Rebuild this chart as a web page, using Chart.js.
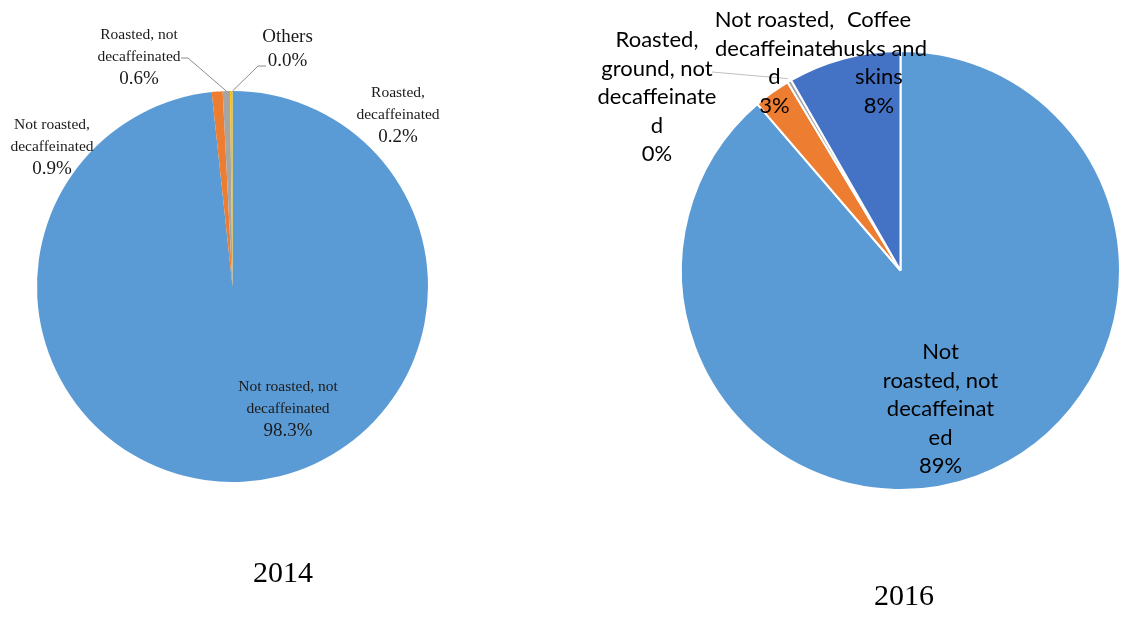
<!DOCTYPE html>
<html>
<head>
<meta charset="utf-8">
<script src="https://cdn.jsdelivr.net/npm/chart.js@4.4.0/dist/chart.umd.min.js"></script>
<style>
    body { margin: 0; background: #fff; }
    #wrap { position: relative; width: 1127px; height: 623px; overflow: hidden; }
    .box { position: absolute; top: 0; height: 623px; }
    .year {
        position: absolute;
        font-family: 'Liberation Serif', 'Times New Roman', serif;
        font-size: 30px;
        color: #000;
        transform: translate(-50%, -50%);
        line-height: 1;
    }
</style>
</head>
<body>
<div id="wrap">
    <div class="box" style="left:0;width:563px"><canvas id="chart2014"></canvas></div>
    <div class="box" style="left:563px;width:564px"><canvas id="chart2016"></canvas></div>
    <div class="year" style="left:283px;top:572px">2014</div>
    <div class="year" style="left:904px;top:595px">2016</div>
</div>
<script>
// data (shares in %)
var categories2014 = ['Not roasted, not decaffeinated', 'Not roasted, decaffeinated', 'Roasted, not decaffeinated', 'Roasted, decaffeinated', 'Others'];
var shares2014 = [98.3, 0.9, 0.6, 0.2, 0.0];
var categories2016 = ['Not roasted, not decaffeinated', 'Not roasted, decaffeinated', 'Roasted, ground, not decaffeinated', 'Coffee husks and skins'];
var shares2016 = [88.7, 2.7, 0.3, 8.3];

// label text as it is wrapped in the original
var wrap2014 = [['Not roasted, not', 'decaffeinated'], ['Not roasted,', 'decaffeinated'], ['Roasted, not', 'decaffeinated'], ['Roasted,', 'decaffeinated'], ['Others']];
var wrap2016 = [['Not', 'roasted, not', 'decaffeinat', 'ed'], ['Not roasted,', 'decaffeinate', 'd'], ['Roasted,', 'ground, not', 'decaffeinate', 'd'], ['Coffee', 'husks and', 'skins']];

var colors2014 = ['#5B9BD5', '#ED7D31', '#A5A5A5', '#FFC000', '#4472C4'];
var colors2016 = ['#5B9BD5', '#ED7D31', '#A5A5A5', '#4472C4'];

// label placement, offsets from the pie centre (first line)
var labelPos2014 = [[55.5, 100.5], [-180.5, -161.5], [-93.5, -251.5], [165.5, -193.5], [55, -249.5]];
var labelPos2016 = [[40, 81.5], [-126, -250.5], [-243.5, -230.5], [-21.5, -250.5]];

var sliceLabels = {
    id: 'sliceLabels',
    afterDatasetsDraw: function (chart, args, o) {
        var ctx = chart.ctx;
        var meta = chart.getDatasetMeta(0);
        var values = chart.data.datasets[0].data;
        var cx = meta.data[0].x, cy = meta.data[0].y;
        ctx.save();

        // leader lines
        ctx.strokeStyle = o.leaderColor;
        ctx.lineWidth = 1;
        o.leaders.forEach(function (l) {
            var arc = meta.data[l.slice];
            var mid = (arc.startAngle + arc.endAngle) / 2;
            var r = arc.outerRadius + (l.extra || 0);
            ctx.beginPath();
            l.from.forEach(function (p, i) {
                if (i === 0) ctx.moveTo(cx + p[0], cy + p[1]);
                else ctx.lineTo(cx + p[0], cy + p[1]);
            });
            ctx.lineTo(cx + r * Math.cos(mid), cy + r * Math.sin(mid));
            ctx.stroke();
        });

        ctx.fillStyle = o.color;
        ctx.textAlign = 'center';
        ctx.textBaseline = 'middle';
        o.lines.forEach(function (lines, i) {
            var x = cx + o.pos[i][0];
            var y = cy + o.pos[i][1];
            var nameSize = o.nameSizes[i];
            var lh = o.lineHeights[i];
            ctx.font = nameSize + 'px ' + o.family;
            lines.forEach(function (t) {
                ctx.fillText(t, x, y);
                y += lh;
            });
            ctx.font = o.pctSize + 'px ' + o.family;
            ctx.fillText(Number(values[i]).toFixed(o.decimals) + '%', x, y);
        });
        ctx.restore();
    }
};

function renderPie(canvasId, labels, values, colors, borderWidth, padding, labelOpts) {
    return new Chart(document.getElementById(canvasId), {
        type: 'pie',
        data: {
            labels: labels,
            datasets: [{
                data: values,
                backgroundColor: colors,
                borderColor: '#ffffff',
                borderWidth: borderWidth
            }]
        },
        options: {
            responsive: true,
            maintainAspectRatio: false,
            animation: false,
            layout: { padding: padding },
            plugins: {
                legend: { display: false },
                tooltip: { enabled: false },
                sliceLabels: labelOpts
            }
        },
        plugins: [sliceLabels]
    });
}

renderPie('chart2014', categories2014, shares2014, colors2014, 0,
    { left: 37, top: 91, right: 135, bottom: 141 },
    {
        lines: wrap2014,
        pos: labelPos2014,
        family: "'Liberation Serif', 'Times New Roman', serif",
        nameSizes: [15.5, 15.5, 15.5, 15.5, 19],
        pctSize: 19,
        lineHeights: [22, 22, 22, 22, 24],
        decimals: 1,
        color: '#1a1a1a',
        leaderColor: '#8c8c8c',
        leaders: [
            { slice: 2, from: [[-51.5, -228.5], [-44.5, -228.5]], extra: 0 },
            { slice: 4, from: [[33.5, -220.5], [25.5, -220.5]], extra: 0 }
        ]
    });

renderPie('chart2016', categories2016, shares2016, colors2016, 2,
    { left: 117, top: 50, right: 6, bottom: 132 },
    {
        lines: wrap2016,
        pos: labelPos2016,
        family: "Lato, 'Noto Sans', sans-serif",
        nameSizes: [22, 22, 22, 22],
        pctSize: 22,
        lineHeights: [28.5, 28.5, 28.5, 28.5],
        decimals: 0,
        color: '#000000',
        leaderColor: '#bfbfbf',
        leaders: [
            { slice: 2, from: [[-188.5, -198.5]], extra: 3 }
        ]
    });
</script>
</body>
</html>
